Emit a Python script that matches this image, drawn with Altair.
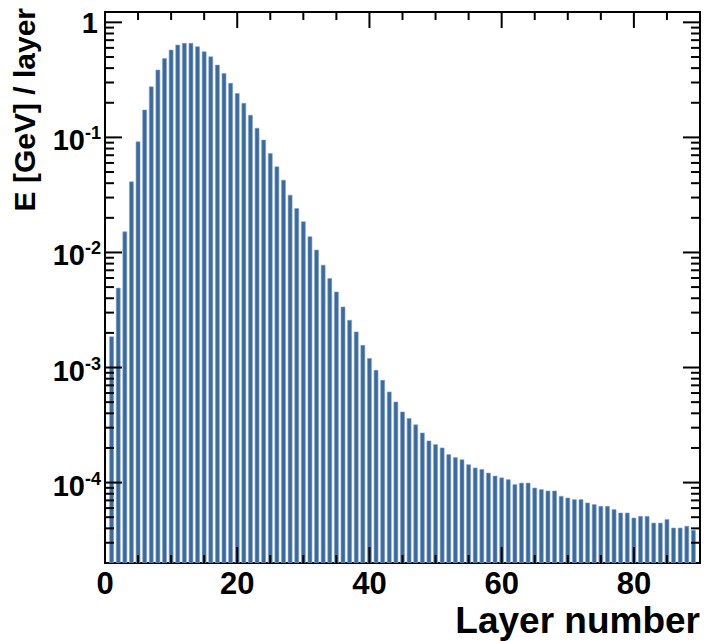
import altair as alt
import pandas as pd

# ---- data ----
layers = list(range(1, 90))
energy = [
    1.85e-3, 4.9e-3, 0.0151, 0.0411, 0.0916, 0.173, 0.275, 0.385, 0.486, 0.574,
    0.635, 0.657, 0.657, 0.614, 0.555, 0.502, 0.425, 0.360, 0.295, 0.241,
    0.198, 0.156, 0.120, 0.0948, 0.0726, 0.0555, 0.0425, 0.0315, 0.0241, 0.0185,
    0.0137, 0.0105, 0.00776, 0.00594, 0.00454, 0.00336, 0.00258, 0.00204, 0.00156, 0.00120,
    9.47e-4, 7.76e-4, 6.14e-4, 5.02e-4, 4.11e-4, 3.60e-4, 3.18e-4, 2.70e-4, 2.30e-4, 2.14e-4,
    2.00e-4, 1.75e-4, 1.65e-4, 1.58e-4, 1.43e-4, 1.34e-4, 1.30e-4, 1.21e-4, 1.14e-4, 1.10e-4,
    1.06e-4, 9.6e-5, 9.9e-5, 9.9e-5, 8.97e-5, 8.69e-5, 8.45e-5, 8.45e-5, 7.60e-5, 7.35e-5,
    7.11e-5, 7.11e-5, 6.65e-5, 6.44e-5, 6.22e-5, 6.22e-5, 5.82e-5, 5.44e-5, 5.44e-5, 4.92e-5,
    5.09e-5, 5.09e-5, 4.45e-5, 4.45e-5, 4.77e-5, 4.03e-5, 4.03e-5, 4.17e-5, 3.85e-5,
]
x_label_values = [0, 20, 40, 60, 80]
x_major_ticks = [20, 40, 60, 80]
x_minor_ticks = [5, 10, 15, 25, 30, 35, 45, 50, 55, 65, 70, 75, 85]
y_decades = [0.1, 0.01, 0.001, 0.0001]
y_exponents = ["-1", "-2", "-3", "-4"]
y_top_label = [1]
x_title = "Layer number"
y_title = "E [GeV] / layer"

YMIN, YMAX = 2.0e-5, 1.23
W, H = 595, 551
FONT = "Liberation Sans"
BAR = "#3a6aa0"

y_major_ticks = [1] + y_decades
y_minor_ticks = [k * d for d in [1e-5, 1e-4, 1e-3, 1e-2, 1e-1] for k in range(2, 10)
                 if YMIN < k * d < YMAX]

df = pd.DataFrame({"layer": layers, "energy": energy})
xscale = alt.Scale(domain=[0, 90], nice=False, zero=False)
yscale = alt.Scale(type="log", domain=[YMIN, YMAX], nice=False)

bars = alt.Chart(df).transform_calculate(
    x0="datum.layer - 0.3", x1="datum.layer + 0.3"
).mark_bar(color=BAR, clip=True, stroke="#7d9fc6", strokeWidth=0.6).encode(
    x=alt.X("x0:Q", scale=xscale, axis=None),
    x2="x1:Q",
    y=alt.Y("energy:Q", scale=yscale, axis=None),
    y2=alt.datum(YMIN),
)

def xticks(vals, length):
    d = pd.DataFrame({"v": vals})
    bot = alt.Chart(d).mark_rule(color="black", strokeWidth=2).encode(
        x=alt.X("v:Q", scale=xscale, axis=None), y=alt.value(H), y2=alt.value(H - length))
    top = alt.Chart(d).mark_rule(color="black", strokeWidth=2).encode(
        x=alt.X("v:Q", scale=xscale, axis=None), y=alt.value(0), y2=alt.value(length))
    return [bot, top]

def yticks(vals, length):
    d = pd.DataFrame({"v": vals})
    left = alt.Chart(d).mark_rule(color="black", strokeWidth=2).encode(
        y=alt.Y("v:Q", scale=yscale, axis=None), x=alt.value(0), x2=alt.value(length))
    right = alt.Chart(d).mark_rule(color="black", strokeWidth=2).encode(
        y=alt.Y("v:Q", scale=yscale, axis=None), x=alt.value(W), x2=alt.value(W - length))
    return [left, right]

txt = dict(font=FONT, fontWeight="bold", color="black")

xlab = alt.Chart(pd.DataFrame({"v": x_label_values})).mark_text(
    align="center", baseline="top", fontSize=31, dy=0, **txt).encode(
    x=alt.X("v:Q", scale=xscale, axis=None), y=alt.value(H + 7), text=alt.Text("v:Q", format="d"))

lab_df = pd.DataFrame({"v": y_decades, "exp": y_exponents})
base_txt = alt.Chart(lab_df).mark_text(
    align="right", baseline="middle", fontSize=29, dy=4, **txt).encode(
    y=alt.Y("v:Q", scale=yscale, axis=None), x=alt.value(-20), text=alt.value("10"))
exp_txt = alt.Chart(lab_df).mark_text(
    align="left", baseline="middle", fontSize=18, dy=-3, **txt).encode(
    y=alt.Y("v:Q", scale=yscale, axis=None), x=alt.value(-20), text="exp:N")
one_txt = alt.Chart(pd.DataFrame({"v": y_top_label})).mark_text(
    align="right", baseline="middle", fontSize=29, dy=2, **txt).encode(
    y=alt.Y("v:Q", scale=yscale, axis=None), x=alt.value(-7), text=alt.value("1"))

xt = alt.Chart(pd.DataFrame({"t": [x_title]})).mark_text(
    align="right", baseline="alphabetic", fontSize=37, **txt).encode(
    x=alt.value(W), y=alt.value(H + 70), text="t:N")
yt = alt.Chart(pd.DataFrame({"t": [y_title]})).mark_text(
    align="right", baseline="alphabetic", fontSize=30, angle=270, **txt).encode(
    x=alt.value(-70), y=alt.value(-4), text="t:N")

layers_list = [bars] + xticks(x_major_ticks, 16) + xticks(x_minor_ticks, 8) \
    + yticks(y_major_ticks, 17) + yticks(y_minor_ticks, 9) \
    + [xlab, base_txt, exp_txt, one_txt, xt, yt]

chart = alt.layer(*layers_list).properties(
    width=W, height=H,
    autosize=alt.AutoSizeParams(type="none"),
    padding={"left": 105, "top": 12, "right": 4, "bottom": 78},
    background="white",
).configure_view(stroke="black", strokeWidth=2)

chart.save("out.html", embed_options={"renderer": "svg", "actions": False})
